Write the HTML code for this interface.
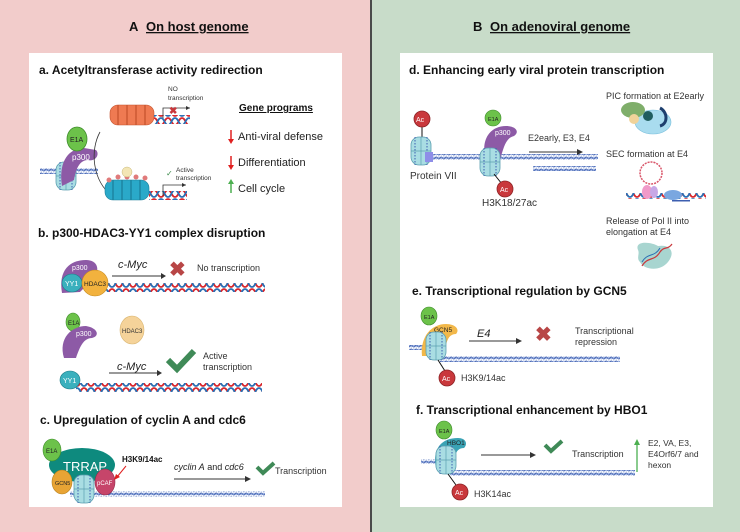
<!DOCTYPE html>
<html><head><meta charset="utf-8"><style>
html,body{margin:0;padding:0;width:740px;height:532px;overflow:hidden;background:#fff}
svg{display:block}
text{font-family:"Liberation Sans",Arial,sans-serif;fill:#222}
.t{font-weight:bold;font-size:12px;fill:#111}
.s{font-size:10px;fill:#333}
.m{font-size:11px;fill:#222}
.w{fill:#fff;font-size:7px}
</style></head><body>
<svg width="740" height="532" viewBox="0 0 740 532" xmlns="http://www.w3.org/2000/svg">
<defs>
<pattern id="dh" width="14" height="9" patternUnits="userSpaceOnUse">
<path d="M0,1 C3.5,1 3.5,8 7,8 C10.5,8 10.5,1 14,1" fill="none" stroke="#d9262c" stroke-width="1.8"/>
<path d="M0,8 C3.5,8 3.5,1 7,1 C10.5,1 10.5,8 14,8" fill="none" stroke="#2a6fb4" stroke-width="1.8"/>
</pattern>
<pattern id="ch" width="5" height="4" patternUnits="userSpaceOnUse">
<path d="M0,2 Q1.25,0 2.5,2 T5,2" fill="none" stroke="#3d5fb0" stroke-width="1"/>
<path d="M0,2 Q1.25,4 2.5,2 T5,2" fill="none" stroke="#6d8ad0" stroke-width="0.8"/>
</pattern>
<g id="nuc">
<rect x="-10" y="-14" width="20" height="28" rx="8" fill="#a9dde3" stroke="#5b9fb0" stroke-width="0.8"/>
<line x1="-10" y1="0" x2="10" y2="0" stroke="#5b9fb0" stroke-width="0.7"/>
<line x1="0" y1="-14" x2="0" y2="14" stroke="#5b9fb0" stroke-width="0.7"/>
<path d="M-6,-14 L-6,14 M6,-14 L6,14" stroke="#3d5fb0" stroke-width="1" stroke-dasharray="1.5,1.5"/>
</g>
<g id="ac"><circle r="8" fill="#c9383c" stroke="#8e2326" stroke-width="0.8"/></g>
</defs>

<rect x="0" y="0" width="371" height="532" fill="#f2cccb"/>
<rect x="371" y="0" width="369" height="532" fill="#c8dcc9"/>
<rect x="370" y="0" width="2" height="532" fill="#4a4a4a"/>
<rect x="29" y="53" width="313" height="454" fill="#fff"/>
<rect x="400" y="53" width="313" height="454" fill="#fff"/>

<text x="129" y="31" style="font-weight:bold;font-size:13px;fill:#111">A</text>
<text x="146" y="31" style="font-weight:bold;font-size:13px;fill:#111" text-decoration="underline">On host genome</text>
<text x="473" y="31" style="font-weight:bold;font-size:13px;fill:#111">B</text>
<text x="490" y="31" style="font-weight:bold;font-size:13px;fill:#111" text-decoration="underline">On adenoviral genome</text>

<!-- a -->
<text x="39" y="74" class="t">a. Acetyltransferase activity redirection</text>
<rect x="40" y="168" width="58" height="6" fill="url(#ch)"/>
<use href="#nuc" x="66" y="176"/>
<path d="M62,186 C58,160 70,148 84,148 L96,150 C100,154 96,162 88,160 C80,160 76,168 74,180 Z" fill="#8d5aa6"/>
<text x="72" y="160" class="w" style="font-size:8px">p300</text>
<ellipse cx="77" cy="139" rx="10" ry="12" fill="#6cc24a" stroke="#3e8c2b" stroke-width="0.8"/>
<text x="70" y="142" style="font-size:7px;fill:#222">E1A</text>
<path d="M100,132 C90,150 92,180 112,196" fill="none" stroke="#333" stroke-width="0.8"/>
<path d="M112,196 l-5,-1 l2,-3z" fill="#333"/>
<g fill="#ef7a52" stroke="#c4512c" stroke-width="0.6">
<rect x="110" y="105" width="44" height="20" rx="8"/>
<path d="M118,105 v20 M127,105 v20 M136,105 v20 M145,105 v20" stroke="#c4512c" stroke-width="1.2"/>
</g>
<rect x="154" y="115" width="36" height="9" fill="url(#dh)"/>
<path d="M163,118 V108 H190" fill="none" stroke="#333" stroke-width="0.8"/><path d="M190,108 l-4,-2 v4z" fill="#333"/>
<text x="169" y="114" style="font-size:10px;fill:#c9383c;font-weight:bold">✖</text>
<text x="168" y="91" class="s" style="font-size:6.5px">NO</text>
<text x="168" y="100" class="s" style="font-size:6.5px">transcription</text>
<g fill="#2aa9c9" stroke="#1b7d98" stroke-width="0.6">
<rect x="105" y="180" width="44" height="20" rx="8"/>
<path d="M113,180 v20 M122,180 v20 M131,180 v20 M140,180 v20" stroke="#1b7d98" stroke-width="1.2"/>
</g>
<g fill="#e07a7a"><circle cx="109" cy="180" r="2.5"/><circle cx="118" cy="177" r="2.5"/><circle cx="127" cy="177" r="2.5"/><circle cx="136" cy="177" r="2.5"/><circle cx="145" cy="178" r="2.5"/></g>
<circle cx="127" cy="172" r="5" fill="#f3e6b5" stroke="#c9b878" stroke-width="0.5"/>
<rect x="149" y="191" width="38" height="9" fill="url(#dh)"/>
<path d="M163,196 V185 H186" fill="none" stroke="#333" stroke-width="0.8"/><path d="M186,185 l-4,-2 v4z" fill="#333"/>
<text x="166" y="176" style="font-size:8px;fill:#3d8c4d">✓</text>
<text x="176" y="172" class="s" style="font-size:6.5px">Active</text>
<text x="176" y="180" class="s" style="font-size:6.5px">transcription</text>
<text x="239" y="111" style="font-weight:bold;font-size:10px;fill:#111" text-decoration="underline">Gene programs</text>
<path d="M231,130 V142" stroke="#e02020" stroke-width="1.5"/><path d="M231,144 l-3,-5 h6z" fill="#e02020"/>
<text x="238" y="140" class="m">Anti-viral defense</text>
<path d="M231,156 V168" stroke="#e02020" stroke-width="1.5"/><path d="M231,170 l-3,-5 h6z" fill="#e02020"/>
<text x="238" y="166" class="m">Differentiation</text>
<path d="M231,193 V183" stroke="#4caf50" stroke-width="1.5"/><path d="M231,179 l-3,5 h6z" fill="#4caf50"/>
<text x="238" y="192" class="m">Cell cycle</text>

<!-- b -->
<text x="38" y="237" class="t">b. p300-HDAC3-YY1 complex disruption</text>
<path d="M62,293 C58,270 70,260 86,260 C98,260 100,270 94,278 L80,292 Z" fill="#8d5aa6"/>
<text x="72" y="270" class="w">p300</text>
<rect x="95" y="283" width="170" height="9" fill="url(#dh)"/>
<ellipse cx="72" cy="283" rx="10" ry="9" fill="#3ab0bd" stroke="#1d7f8a" stroke-width="0.6"/>
<text x="65" y="286" class="w">YY1</text>
<ellipse cx="95" cy="283" rx="13" ry="13" fill="#f2b23e" stroke="#c68a1c" stroke-width="0.6"/>
<text x="84" y="286" style="font-size:6.5px;fill:#222">HDAC3</text>
<text x="118" y="268" style="font-style:italic;font-size:11px">c-Myc</text>
<path d="M112,276 H162" stroke="#333" stroke-width="0.9"/><path d="M166,276 l-5,-3 v6z" fill="#333"/>
<text x="169" y="276" style="font-size:20px;fill:#b84646;font-weight:bold">✖</text>
<text x="197" y="271" class="s" style="font-size:9px">No transcription</text>
<ellipse cx="73" cy="322" rx="7" ry="9" fill="#6cc24a" stroke="#3e8c2b" stroke-width="0.6"/>
<text x="68" y="325" style="font-size:6px">E1A</text>
<path d="M64,358 C58,338 72,326 86,326 C98,328 100,336 92,338 C84,338 80,346 76,358 Z" fill="#8d5aa6"/>
<text x="76" y="336" class="w">p300</text>
<ellipse cx="132" cy="330" rx="12" ry="14" fill="#f5d39a" stroke="#d9b46e" stroke-width="0.6"/>
<text x="122" y="333" style="font-size:6px;fill:#333">HDAC3</text>
<text x="117" y="370" style="font-style:italic;font-size:11px">c-Myc</text>
<path d="M109,373 H158" stroke="#333" stroke-width="0.9"/><path d="M162,373 l-5,-3 v6z" fill="#333"/>
<path d="M168,360 l9,9 l17,-18" fill="none" stroke="#3f8a57" stroke-width="6"/>
<text x="203" y="359" class="s" style="font-size:9px">Active</text>
<text x="203" y="370" class="s" style="font-size:9px">transcription</text>
<rect x="76" y="383" width="186" height="9" fill="url(#dh)"/>
<ellipse cx="70" cy="380" rx="10" ry="9" fill="#3ab0bd" stroke="#1d7f8a" stroke-width="0.6"/>
<text x="63" y="383" class="w">YY1</text>

<!-- c -->
<text x="40" y="424" class="t">c. Upregulation of cyclin A and cdc6</text>
<rect x="70" y="491" width="195" height="6" fill="url(#ch)"/>
<ellipse cx="82" cy="465" rx="33" ry="17" fill="#0e8a7e"/>
<text x="63" y="471" style="font-size:13px;fill:#fff">TRRAP</text>
<ellipse cx="52" cy="450" rx="9" ry="11" fill="#6cc24a" stroke="#3e8c2b" stroke-width="0.6"/>
<text x="46" y="453" style="font-size:6px">E1A</text>
<ellipse cx="62" cy="482" rx="10" ry="12" fill="#e8a435" stroke="#b8801c" stroke-width="0.6"/>
<text x="55" y="485" style="font-size:5.5px">GCN5</text>
<use href="#nuc" x="84" y="489"/>
<ellipse cx="105" cy="482" rx="10" ry="13" fill="#c6456a" stroke="#932b4a" stroke-width="0.6"/>
<text x="97" y="485" style="font-size:6px;fill:#fff">pCAF</text>
<text x="122" y="462" style="font-weight:bold;font-size:8px;fill:#111">H3K9/14ac</text>
<path d="M126,466 L117,477" stroke="#e02020" stroke-width="1"/><path d="M114,480 l2,-6 l4,3z" fill="#e02020"/>
<text x="174" y="470" style="font-size:9px"><tspan font-style="italic">cyclin A</tspan> and <tspan font-style="italic">cdc6</tspan></text>
<path d="M174,479 H246" stroke="#333" stroke-width="0.9"/><path d="M251,479 l-6,-3 v6z" fill="#333"/>
<path d="M257,467 l6,6 l11,-10" fill="none" stroke="#3f8a57" stroke-width="4"/>
<text x="275" y="474" class="s" style="font-size:9px">Transcription</text>

<!-- d -->
<text x="409" y="74" class="t">d. Enhancing early viral protein transcription</text>
<rect x="428" y="154" width="170" height="6" fill="url(#ch)"/>
<rect x="533" y="166" width="63" height="5" fill="url(#ch)"/>
<line x1="422" y1="126" x2="422" y2="140" stroke="#111" stroke-width="1"/>
<use href="#ac" x="422" y="119"/><text x="416" y="122" class="w">Ac</text>
<use href="#nuc" x="421" y="151"/>
<rect x="425" y="152" width="8" height="10" fill="#8e8ee8"/>
<text x="410" y="179" class="s">Protein VII</text>
<path d="M486,160 C480,140 490,126 506,126 C516,126 520,132 514,136 C506,138 504,146 500,160 Z" fill="#8d5aa6"/>
<text x="495" y="135" class="w">p300</text>
<ellipse cx="493" cy="118" rx="8" ry="8" fill="#6cc24a" stroke="#3e8c2b" stroke-width="0.6"/>
<text x="488" y="121" style="font-size:5.5px">E1A</text>
<use href="#nuc" x="490" y="162"/>
<line x1="494" y1="174" x2="502" y2="184" stroke="#111" stroke-width="1"/>
<use href="#ac" x="505" y="189"/><text x="500" y="192" class="w">Ac</text>
<text x="482" y="206" class="s">H3K18/27ac</text>
<text x="528" y="141" class="s" style="font-size:9px">E2early, E3, E4</text>
<path d="M529,152 H578" stroke="#333" stroke-width="0.9"/><path d="M583,152 l-6,-3 v6z" fill="#333"/>
<text x="606" y="99" class="s" style="font-size:9px">PIC formation at E2early</text>
<ellipse cx="653" cy="122" rx="18" ry="12" fill="#a9dcef" stroke="#7cc0dc" stroke-width="0.6"/>
<ellipse cx="633" cy="110" rx="12" ry="8" fill="#7fae6a"/>
<circle cx="634" cy="119" r="5" fill="#f0d39a"/>
<circle cx="648" cy="116" r="5" fill="#1f5d5e"/>
<path d="M660,108 C668,112 668,124 660,126" fill="none" stroke="#1d3f6e" stroke-width="3"/>
<text x="606" y="157" class="s" style="font-size:9px">SEC formation at E4</text>
<circle cx="651" cy="173" r="11" fill="none" stroke="#d9566a" stroke-width="1.5" stroke-dasharray="2,1"/>
<rect x="626" y="193" width="80" height="6" fill="url(#dh)"/>
<ellipse cx="647" cy="192" rx="5" ry="7" fill="#f09ac9"/><ellipse cx="654" cy="192" rx="4" ry="6" fill="#c7a8e6"/>
<ellipse cx="673" cy="195" rx="9" ry="5" fill="#7aa7e0"/>
<rect x="672" y="200" width="18" height="1.5" fill="#3d5fb0"/>
<text x="606" y="224" class="s" style="font-size:9px">Release of Pol II into</text>
<text x="606" y="235" class="s" style="font-size:9px">elongation at E4</text>
<path d="M638,250 C634,240 652,242 658,246 C670,244 676,252 668,262 C660,272 644,270 640,262 C636,258 640,254 638,250 Z" fill="#a8d5d0"/>
<path d="M642,266 C648,256 654,262 660,252 C664,246 668,250 672,244" fill="none" stroke="#c9383c" stroke-width="1.2"/>
<path d="M642,262 C648,252 654,258 660,248" fill="none" stroke="#2a6fb4" stroke-width="1"/>

<!-- e -->
<text x="412" y="295" class="t">e.  Transcriptional regulation by GCN5</text>
<rect x="409" y="345" width="30" height="5" fill="url(#ch)"/>
<rect x="440" y="356" width="180" height="6" fill="url(#ch)"/>
<path d="M422,356 C420,336 432,324 446,324 C456,324 460,330 456,334 C448,334 446,342 444,356 Z" fill="#f2b84a"/>
<text x="434" y="332" style="font-size:6.5px">GCN5</text>
<ellipse cx="429" cy="316" rx="8" ry="9" fill="#6cc24a" stroke="#3e8c2b" stroke-width="0.6"/>
<text x="424" y="319" style="font-size:5.5px">E1A</text>
<use href="#nuc" x="436" y="346"/>
<line x1="438" y1="360" x2="445" y2="371" stroke="#111" stroke-width="1"/>
<use href="#ac" x="447" y="378"/><text x="442" y="381" class="w">Ac</text>
<text x="461" y="381" class="s" style="font-size:9px">H3K9/14ac</text>
<text x="477" y="337" style="font-style:italic;font-size:11px">E4</text>
<path d="M469,341 H516" stroke="#333" stroke-width="0.9"/><path d="M522,341 l-6,-3 v6z" fill="#333"/>
<text x="535" y="341" style="font-size:20px;fill:#b84646;font-weight:bold">✖</text>
<text x="575" y="334" class="s" style="font-size:9px">Transcriptional</text>
<text x="575" y="345" class="s" style="font-size:9px">repression</text>

<!-- f -->
<text x="416" y="414" class="t">f.  Transcriptional enhancement by HBO1</text>
<rect x="421" y="459" width="30" height="5" fill="url(#ch)"/>
<rect x="450" y="470" width="185" height="6" fill="url(#ch)"/>
<path d="M436,468 C432,448 442,438 458,438 C466,438 468,444 464,448 C456,448 454,456 454,466 Z" fill="#3aa3b5"/>
<text x="447" y="445" style="font-size:6.5px">HBO1</text>
<ellipse cx="444" cy="430" rx="8" ry="9" fill="#6cc24a" stroke="#3e8c2b" stroke-width="0.6"/>
<text x="439" y="433" style="font-size:5.5px">E1A</text>
<use href="#nuc" x="446" y="460"/>
<line x1="448" y1="474" x2="456" y2="485" stroke="#111" stroke-width="1"/>
<use href="#ac" x="460" y="492"/><text x="455" y="495" class="w">Ac</text>
<text x="474" y="497" class="s" style="font-size:9px">H3K14ac</text>
<path d="M481,455 H530" stroke="#333" stroke-width="0.9"/><path d="M536,455 l-6,-3 v6z" fill="#333"/>
<path d="M545,445 l6,6 l11,-10" fill="none" stroke="#3f8a57" stroke-width="4"/>
<text x="572" y="457" class="s" style="font-size:9px">Transcription</text>
<path d="M637,472 V444" stroke="#4caf50" stroke-width="1.3"/><path d="M637,439 l-3,6 h6z" fill="#4caf50"/>
<text x="648" y="446" class="s" style="font-size:8.5px">E2, VA, E3,</text>
<text x="648" y="457" class="s" style="font-size:8.5px">E4Orf6/7 and</text>
<text x="648" y="468" class="s" style="font-size:8.5px">hexon</text>
</svg>
</body></html>
